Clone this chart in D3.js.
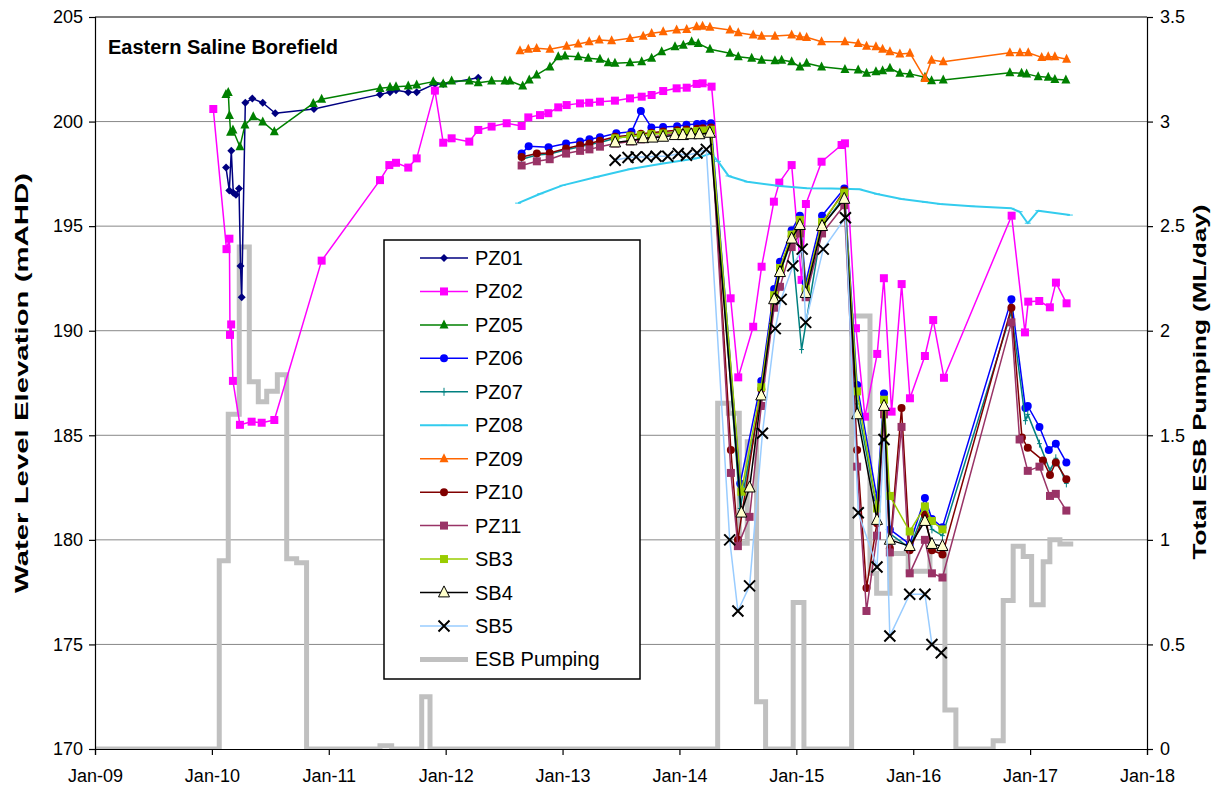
<!DOCTYPE html>
<html><head><meta charset="utf-8">
<script src="https://cdn.jsdelivr.net/npm/d3@7"></script>
<style>body{margin:0;background:#fff} text{font-family:"Liberation Sans",Arial,sans-serif}</style>
</head><body><svg id="c" width="1219" height="793"></svg>
<script>
// ---------- DATA ----------
const xTickYears = [2009,2010,2011,2012,2013,2014,2015,2016,2017,2018];
const xTickLabels = ["Jan-09","Jan-10","Jan-11","Jan-12","Jan-13","Jan-14","Jan-15","Jan-16","Jan-17","Jan-18"];
const yTicks = [170,175,180,185,190,195,200,205];
const y2Ticks = [0,0.5,1,1.5,2,2.5,3,3.5];
const gridValues = [175,180,185,190,195,200];

const PZ01 = [[2010.121,197.8],[2010.149,196.7],[2010.166,198.6],[2010.183,196.6],[2010.206,196.5],[2010.232,196.8],[2010.245,193.1],[2010.255,191.6],[2010.286,200.9],[2010.346,201.1],[2010.435,200.9],[2010.542,200.4],[2010.873,200.6],[2011.438,201.3],[2011.524,201.4],[2011.575,201.5],[2011.68,201.4],[2011.752,201.4],[2011.908,201.8],[2011.979,201.8],[2012.279,202.1]];
const PZ02 = [[2010.012,200.6],[2010.125,193.9],[2010.15,194.4],[2010.155,189.8],[2010.165,190.3],[2010.18,187.6],[2010.24,185.5],[2010.34,185.65],[2010.426,185.6],[2010.534,185.73],[2010.939,193.35],[2011.438,197.2],[2011.518,197.92],[2011.575,198.03],[2011.68,197.8],[2011.752,198.24],[2011.908,201.48],[2011.979,198.99],[2012.051,199.2],[2012.202,199.04],[2012.279,199.6],[2012.393,199.76],[2012.522,199.92],[2012.65,199.79],[2012.707,200.2],[2012.807,200.31],[2012.878,200.4],[2012.963,200.68],[2013.035,200.79],[2013.149,200.87],[2013.228,200.9],[2013.32,200.95],[2013.448,201.0],[2013.577,201.11],[2013.677,201.19],[2013.762,201.27],[2013.861,201.46],[2013.976,201.59],[2014.062,201.62],[2014.147,201.8],[2014.198,201.83],[2014.275,201.67],[2014.438,191.55],[2014.503,187.77],[2014.631,190.19],[2014.703,193.06],[2014.808,196.17],[2014.854,197.08],[2014.96,197.92],[2015.045,192.43],[2015.082,196.06],[2015.216,198.08],[2015.387,198.88],[2015.416,198.96],[2015.51,190.12],[2015.587,185.89],[2015.692,188.89],[2015.749,192.51],[2015.815,186.13],[2015.901,192.23],[2015.972,186.77],[2016.1,188.79],[2016.171,190.51],[2016.263,187.75],[2016.842,195.5],[2016.956,189.92],[2016.984,191.39],[2017.078,191.42],[2017.169,191.12],[2017.221,192.3],[2017.312,191.31]];
const PZ05 = [[2010.12,201.3],[2010.14,201.4],[2010.15,200.3],[2010.16,199.5],[2010.18,199.6],[2010.24,198.8],[2010.283,199.84],[2010.354,200.23],[2010.435,199.99],[2010.534,199.52],[2010.867,200.87],[2010.939,201.07],[2011.438,201.59],[2011.524,201.64],[2011.575,201.67],[2011.68,201.7],[2011.752,201.75],[2011.894,201.91],[2011.979,201.8],[2012.051,201.94],[2012.202,201.94],[2012.279,201.86],[2012.393,201.94],[2012.507,201.94],[2012.55,201.94],[2012.659,201.7],[2012.715,201.99],[2012.778,202.23],[2012.892,202.62],[2012.963,203.1],[2013.021,203.14],[2013.134,203.1],[2013.22,203.03],[2013.32,202.98],[2013.391,202.82],[2013.448,202.79],[2013.577,202.82],[2013.677,202.86],[2013.762,203.03],[2013.848,203.34],[2013.962,203.58],[2014.033,203.66],[2014.104,203.82],[2014.161,203.74],[2014.261,203.46],[2014.432,203.27],[2014.503,203.1],[2014.618,203.03],[2014.703,202.94],[2014.817,202.91],[2014.874,202.94],[2014.96,202.86],[2015.031,202.62],[2015.088,202.79],[2015.216,202.62],[2015.416,202.5],[2015.529,202.47],[2015.601,202.31],[2015.681,202.39],[2015.738,202.43],[2015.801,202.55],[2015.886,202.31],[2015.972,202.28],[2016.1,202.12],[2016.157,201.96],[2016.257,201.99],[2016.827,202.34],[2016.927,202.31],[2016.97,202.28],[2017.069,202.15],[2017.155,202.12],[2017.212,202.02],[2017.306,201.99]];
const PZ06 = [[2012.65,198.47],[2012.71,198.82],[2012.88,198.77],[2013.03,198.95],[2013.15,199.05],[2013.23,199.15],[2013.32,199.25],[2013.46,199.44],[2013.59,199.51],[2013.67,200.51],[2013.76,199.72],[2013.86,199.74],[2013.98,199.78],[2014.06,199.85],[2014.15,199.88],[2014.2,199.9],[2014.27,199.92],[2014.52,182.7],[2014.7,187.6],[2014.81,192.0],[2014.86,193.3],[2014.96,194.8],[2015.03,195.5],[2015.08,192.3],[2015.22,195.5],[2015.41,196.8],[2015.52,187.4],[2015.69,182.0],[2015.75,187.0],[2015.8,180.5],[2015.97,179.8],[2016.1,182.0],[2016.16,181.0],[2016.25,180.6],[2016.84,191.5],[2016.96,186.3],[2016.98,186.4],[2017.08,185.4],[2017.16,184.3],[2017.22,184.6],[2017.31,183.7]];
const PZ07 = [[2012.65,198.2],[2012.78,198.4],[2012.89,198.45],[2013.03,198.65],[2013.15,198.8],[2013.23,198.9],[2013.32,199.0],[2013.45,199.2],[2013.58,199.3],[2013.67,199.35],[2013.76,199.4],[2013.86,199.45],[2013.98,199.5],[2014.06,199.55],[2014.15,199.6],[2014.2,199.62],[2014.27,199.65],[2014.52,181.5],[2014.7,187.0],[2014.81,191.3],[2014.86,192.8],[2014.96,194.3],[2015.045,189.1],[2015.22,195.0],[2015.41,196.4],[2015.52,186.5],[2015.69,181.5],[2015.75,186.6],[2015.8,180.3],[2015.97,179.6],[2016.1,181.5],[2016.16,180.5],[2016.25,180.2],[2016.84,190.9],[2016.96,185.7],[2016.98,186.0],[2017.08,184.6],[2017.17,183.3],[2017.22,183.9],[2017.31,182.7]];
const PZ08 = [[2012.62,196.1],[2012.81,196.55],[2013.0,196.95],[2013.29,197.35],[2013.58,197.73],[2013.86,198.0],[2014.15,198.25],[2014.27,198.48],[2014.33,198.1],[2014.42,197.4],[2014.58,197.12],[2014.86,196.92],[2015.09,196.81],[2015.3,196.8],[2015.54,196.76],[2015.69,196.54],[2015.9,196.3],[2016.1,196.15],[2016.23,196.06],[2016.5,195.95],[2016.84,195.85],[2016.91,195.69],[2016.98,195.14],[2017.07,195.74],[2017.34,195.53]];
const PZ09 = [[2012.636,203.39],[2012.707,203.46],[2012.778,203.5],[2012.892,203.46],[2013.035,203.61],[2013.134,203.71],[2013.228,203.82],[2013.314,203.9],[2013.42,203.87],[2013.577,203.98],[2013.69,204.09],[2013.762,204.22],[2013.861,204.3],[2013.976,204.38],[2014.062,204.41],[2014.147,204.54],[2014.198,204.56],[2014.261,204.51],[2014.432,204.38],[2014.503,204.25],[2014.631,204.14],[2014.703,204.09],[2014.817,204.09],[2014.96,204.14],[2015.031,204.06],[2015.088,204.03],[2015.216,203.82],[2015.416,203.82],[2015.529,203.74],[2015.601,203.61],[2015.681,203.58],[2015.738,203.46],[2015.801,203.34],[2015.886,203.23],[2015.972,203.27],[2016.1,202.07],[2016.157,202.94],[2016.257,202.86],[2016.827,203.29],[2016.913,203.29],[2016.984,203.29],[2017.099,203.07],[2017.155,203.1],[2017.212,203.1],[2017.312,202.98]];
const PZ10 = [[2012.65,198.31],[2012.78,198.47],[2012.89,198.5],[2013.03,198.71],[2013.15,198.87],[2013.23,198.95],[2013.32,199.08],[2013.45,199.27],[2013.58,199.35],[2013.67,199.42],[2013.76,199.47],[2013.86,199.52],[2013.98,199.58],[2014.06,199.62],[2014.15,199.66],[2014.2,199.68],[2014.27,199.72],[2014.44,184.3],[2014.5,180.0],[2014.7,187.2],[2014.81,191.6],[2014.86,193.0],[2014.96,194.5],[2015.03,195.2],[2015.08,192.0],[2015.22,195.1],[2015.41,196.7],[2015.52,184.3],[2015.6,177.7],[2015.69,180.8],[2015.75,186.2],[2015.8,179.6],[2015.9,186.3],[2015.97,179.5],[2016.1,181.2],[2016.16,179.5],[2016.25,179.3],[2016.84,191.1],[2016.93,184.9],[2016.98,184.4],[2017.11,183.8],[2017.17,183.1],[2017.22,183.7],[2017.31,182.9]];
const PZ11 = [[2012.65,197.9],[2012.78,198.1],[2012.89,198.2],[2013.03,198.47],[2013.15,198.6],[2013.23,198.67],[2013.32,198.8],[2013.45,198.95],[2013.58,199.05],[2013.67,199.15],[2013.76,199.25],[2013.86,199.35],[2013.98,199.45],[2014.06,199.5],[2014.15,199.55],[2014.2,199.58],[2014.27,199.62],[2014.44,183.2],[2014.5,179.7],[2014.6,181.1],[2014.7,186.4],[2014.81,191.1],[2014.86,192.1],[2014.96,194.0],[2015.03,194.65],[2015.08,191.6],[2015.22,194.65],[2015.41,196.0],[2015.52,183.5],[2015.6,176.6],[2015.69,180.2],[2015.75,186.0],[2015.8,179.4],[2015.9,185.4],[2015.97,178.4],[2016.1,180.0],[2016.16,178.4],[2016.25,178.2],[2016.84,190.4],[2016.91,184.8],[2016.98,183.3],[2017.08,183.5],[2017.17,182.1],[2017.22,182.2],[2017.31,181.4]];
const SB3 = [[2013.45,199.2],[2013.58,199.3],[2013.67,199.35],[2013.76,199.4],[2013.86,199.43],[2013.98,199.5],[2014.06,199.52],[2014.15,199.55],[2014.2,199.57],[2014.27,199.6],[2014.53,182.3],[2014.7,187.3],[2014.81,191.7],[2014.86,193.0],[2014.96,194.6],[2015.03,195.3],[2015.08,192.0],[2015.22,195.2],[2015.41,196.6],[2015.52,187.1],[2015.69,181.5],[2015.75,186.7],[2015.8,182.1],[2015.97,180.4],[2016.1,181.6],[2016.16,180.9],[2016.25,180.5]];
const SB4 = [[2013.45,199.0],[2013.59,199.1],[2013.69,199.2],[2013.77,199.23],[2013.86,199.27],[2013.96,199.35],[2014.03,199.35],[2014.1,199.39],[2014.17,199.39],[2014.26,199.46],[2014.53,181.3],[2014.6,182.5],[2014.7,186.9],[2014.81,191.5],[2014.86,192.8],[2014.96,194.4],[2015.03,195.05],[2015.08,191.8],[2015.22,195.0],[2015.41,196.3],[2015.52,186.0],[2015.69,180.95],[2015.75,186.4],[2015.8,180.0],[2015.97,179.7],[2016.1,180.9],[2016.16,179.8],[2016.25,179.7]];
const SB5 = [[2013.45,198.15],[2013.56,198.28],[2013.63,198.31],[2013.72,198.31],[2013.8,198.34],[2013.9,198.34],[2013.99,198.47],[2014.06,198.39],[2014.15,198.5],[2014.23,198.67],[2014.43,180.0],[2014.5,176.6],[2014.6,177.8],[2014.71,185.1],[2014.82,190.1],[2014.87,191.5],[2014.97,193.1],[2015.05,193.9],[2015.08,190.4],[2015.23,193.9],[2015.42,195.4],[2015.53,181.3],[2015.69,178.7],[2015.75,184.8],[2015.8,175.4],[2015.97,177.4],[2016.1,177.4],[2016.16,175.0],[2016.24,174.6]];
const pumpYears = [2009.0,2010.063,2010.14,2010.234,2010.32,2010.397,2010.469,2010.56,2010.64,2010.725,2010.81,2011.438,2011.538,2011.795,2011.866,2014.327,2014.418,2014.512,2014.58,2014.66,2014.737,2014.973,2015.065,2015.473,2015.63,2015.687,2015.801,2015.957,2016.143,2016.271,2016.365,2016.684,2016.77,2016.855,2016.941,2017.013,2017.112,2017.169,2017.255,2017.369];
const pumpValues = [0,0.9,1.6,2.4,1.756,1.66,1.71,1.79,0.91,0.89,0,0.015,0,0.25,0,1.653,1.605,0.984,1.469,0.226,0,0.7,0,2.07,0.84,0.745,0.935,0.85,0.95,0.186,0,0.04,0.71,0.97,0.92,0.69,0.895,1.0,0.98,0.98];

// ---------- CHART ----------
const svg = d3.select("#c");
const L = 95, R = 1147, T = 17, B = 749;
const x = d3.scaleLinear().domain([2009, 2018]).range([L, R]);
const y = d3.scaleLinear().domain([170, 205]).range([B, T]);
const y2 = d3.scaleLinear().domain([0, 3.5]).range([B, T]);

svg.append("rect").attr("width",1219).attr("height",793).attr("fill","#fff");
svg.append("defs").append("clipPath").attr("id","clip").append("rect")
  .attr("x",L).attr("y",T-6).attr("width",R-L).attr("height",B-T+6);

// gridlines
svg.append("g").selectAll("line").data(gridValues).join("line")
  .attr("x1",L).attr("x2",R).attr("y1",d=>y(d)).attr("y2",d=>y(d))
  .attr("stroke","#888").attr("stroke-width",1);

// pumping (secondary axis)
const pumpData = pumpYears.map((t,i)=>[t,pumpValues[i]]);
const gPlot = svg.append("g").attr("clip-path","url(#clip)");
gPlot.append("path").datum(pumpData)
  .attr("d", d3.line().x(d=>x(d[0])).y(d=>y2(d[1])).curve(d3.curveStepAfter))
  .attr("fill","none").attr("stroke","#c0c0c0").attr("stroke-width",5);

function markerPath(type, s){
  switch(type){
    case "diamond": return `M0,${-s}L${s},0L0,${s}L${-s},0Z`;
    case "square": return `M${-s},${-s}H${s}V${s}H${-s}Z`;
    case "triangle": return `M0,${-s*1.2}L${s},${s*0.8}L${-s},${s*0.8}Z`;
    case "circle": return d3.arc()({innerRadius:0,outerRadius:s,startAngle:0,endAngle:2*Math.PI});
    case "x": return `M${-s},${-s}L${s},${s}M${s},${-s}L${-s},${s}`;
    case "plus": return `M0,${-s}V${s}M${-s*0.6},0H${s*0.6}`;
    case "dash": return `M${-s},0H${s}`;
    default: return "";
  }
}

const series = [
  {name:"PZ01", data:PZ01, color:"#000080", type:"diamond", size:4, fill:"#000080", stroke:"none", sw:1.5},
  {name:"PZ02", data:PZ02, color:"#ff00ff", type:"square", size:4, fill:"#ff00ff", stroke:"none", sw:1.5},
  {name:"PZ05", data:PZ05, color:"#008000", type:"triangle", size:4.5, fill:"#008000", stroke:"none", sw:1.5},
  {name:"PZ06", data:PZ06, color:"#0000ff", type:"circle", size:4, fill:"#0000ff", stroke:"none", sw:1.5},
  {name:"PZ07", data:PZ07, color:"#008080", type:"plus", size:4, fill:"none", stroke:"#008080", sw:1.5},
  {name:"PZ08", data:PZ08, color:"#33ccee", type:"dash", size:3, fill:"none", stroke:"#33ccee", sw:2},
  {name:"PZ09", data:PZ09, color:"#ff6600", type:"triangle", size:4.5, fill:"#ff6600", stroke:"none", sw:1.5},
  {name:"PZ10", data:PZ10, color:"#800000", type:"circle", size:4, fill:"#800000", stroke:"none", sw:1.5},
  {name:"PZ11", data:PZ11, color:"#993366", type:"square", size:4, fill:"#993366", stroke:"none", sw:1.5},
  {name:"SB3", data:SB3, color:"#99cc00", type:"square", size:4, fill:"#99cc00", stroke:"none", sw:1.5},
  {name:"SB4", data:SB4, color:"#000000", type:"triangle", size:5.5, fill:"#ffffcc", stroke:"#000", sw:1.5},
  {name:"SB5", data:SB5, color:"#99ccff", type:"x", size:5.5, fill:"none", stroke:"#000", sw:1.5}
];

const line = d3.line().x(d=>x(d[0])).y(d=>y(d[1]));
series.forEach(s=>{
  const g = gPlot.append("g");
  g.append("path").datum(s.data).attr("d",line).attr("fill","none")
    .attr("stroke",s.color).attr("stroke-width",s.sw).attr("stroke-linejoin","round");
  g.selectAll("path.m").data(s.data).join("path").attr("class","m")
    .attr("transform",d=>`translate(${x(d[0])},${y(d[1])})`)
    .attr("d",markerPath(s.type,s.size))
    .attr("fill",s.fill).attr("stroke",s.stroke)
    .attr("stroke-width", s.type==="x"?2:1);
});

// frame & axes
svg.append("line").attr("x1",L).attr("x2",R).attr("y1",T).attr("y2",T).attr("stroke","#000").attr("stroke-width",1.2);
const ax = svg.append("g").attr("transform",`translate(0,${B})`)
  .call(d3.axisBottom(x).tickValues(xTickYears).tickFormat((d,i)=>xTickLabels[i]).tickSize(6).tickPadding(14));
const ayl = svg.append("g").attr("transform",`translate(${L},0)`)
  .call(d3.axisLeft(y).tickValues(yTicks).tickFormat(d3.format("d")).tickSize(6).tickPadding(6));
const ayr = svg.append("g").attr("transform",`translate(${R},0)`)
  .call(d3.axisRight(y2).tickValues(y2Ticks).tickFormat(d=>String(d)).tickSize(6).tickPadding(7));
[ax,ayl,ayr].forEach(a=>{
  a.select(".domain").attr("stroke","#000").attr("stroke-width",1.2);
  a.selectAll(".tick line").attr("stroke","#000").attr("stroke-width",1.2);
  a.selectAll("text").attr("font-size",18).attr("fill","#000")
   .attr("font-family","'Liberation Sans',Arial,sans-serif");
});

// title
svg.append("text").attr("x",108).attr("y",54).attr("font-size",20).attr("font-weight","bold")
  .text("Eastern Saline Borefield");
// axis titles
svg.append("text").attr("transform",`translate(28,383) rotate(-90)`).attr("text-anchor","middle")
  .attr("font-size",18).attr("font-weight","bold")
  .attr("textLength",420).attr("lengthAdjust","spacingAndGlyphs")
  .text("Water Level Elevation (mAHD)");
svg.append("text").attr("transform",`translate(1206,382) rotate(-90)`).attr("text-anchor","middle")
  .attr("font-size",18).attr("font-weight","bold")
  .attr("textLength",355).attr("lengthAdjust","spacingAndGlyphs")
  .text("Total ESB Pumping (ML/day)");

// legend
const lg = svg.append("g");
lg.append("rect").attr("x",384).attr("y",240).attr("width",256).attr("height",439)
  .attr("fill","#fff").attr("stroke","#000").attr("stroke-width",1.5);
const legendItems = series.concat([{name:"ESB Pumping", color:"#c0c0c0", type:"none", sw:5}]);
legendItems.forEach((s,i)=>{
  const yy = 258 + i*33.45;
  lg.append("line").attr("x1",420).attr("x2",468).attr("y1",yy).attr("y2",yy)
    .attr("stroke",s.color).attr("stroke-width",s.sw);
  if(s.type!=="none"){
    lg.append("path").attr("transform",`translate(444,${yy})`).attr("d",markerPath(s.type,s.size))
      .attr("fill",s.fill).attr("stroke",s.stroke).attr("stroke-width", s.type==="x"?2:1);
  }
  lg.append("text").attr("x",475).attr("y",yy+7).attr("font-size",20).text(s.name);
});
</script></body></html>
